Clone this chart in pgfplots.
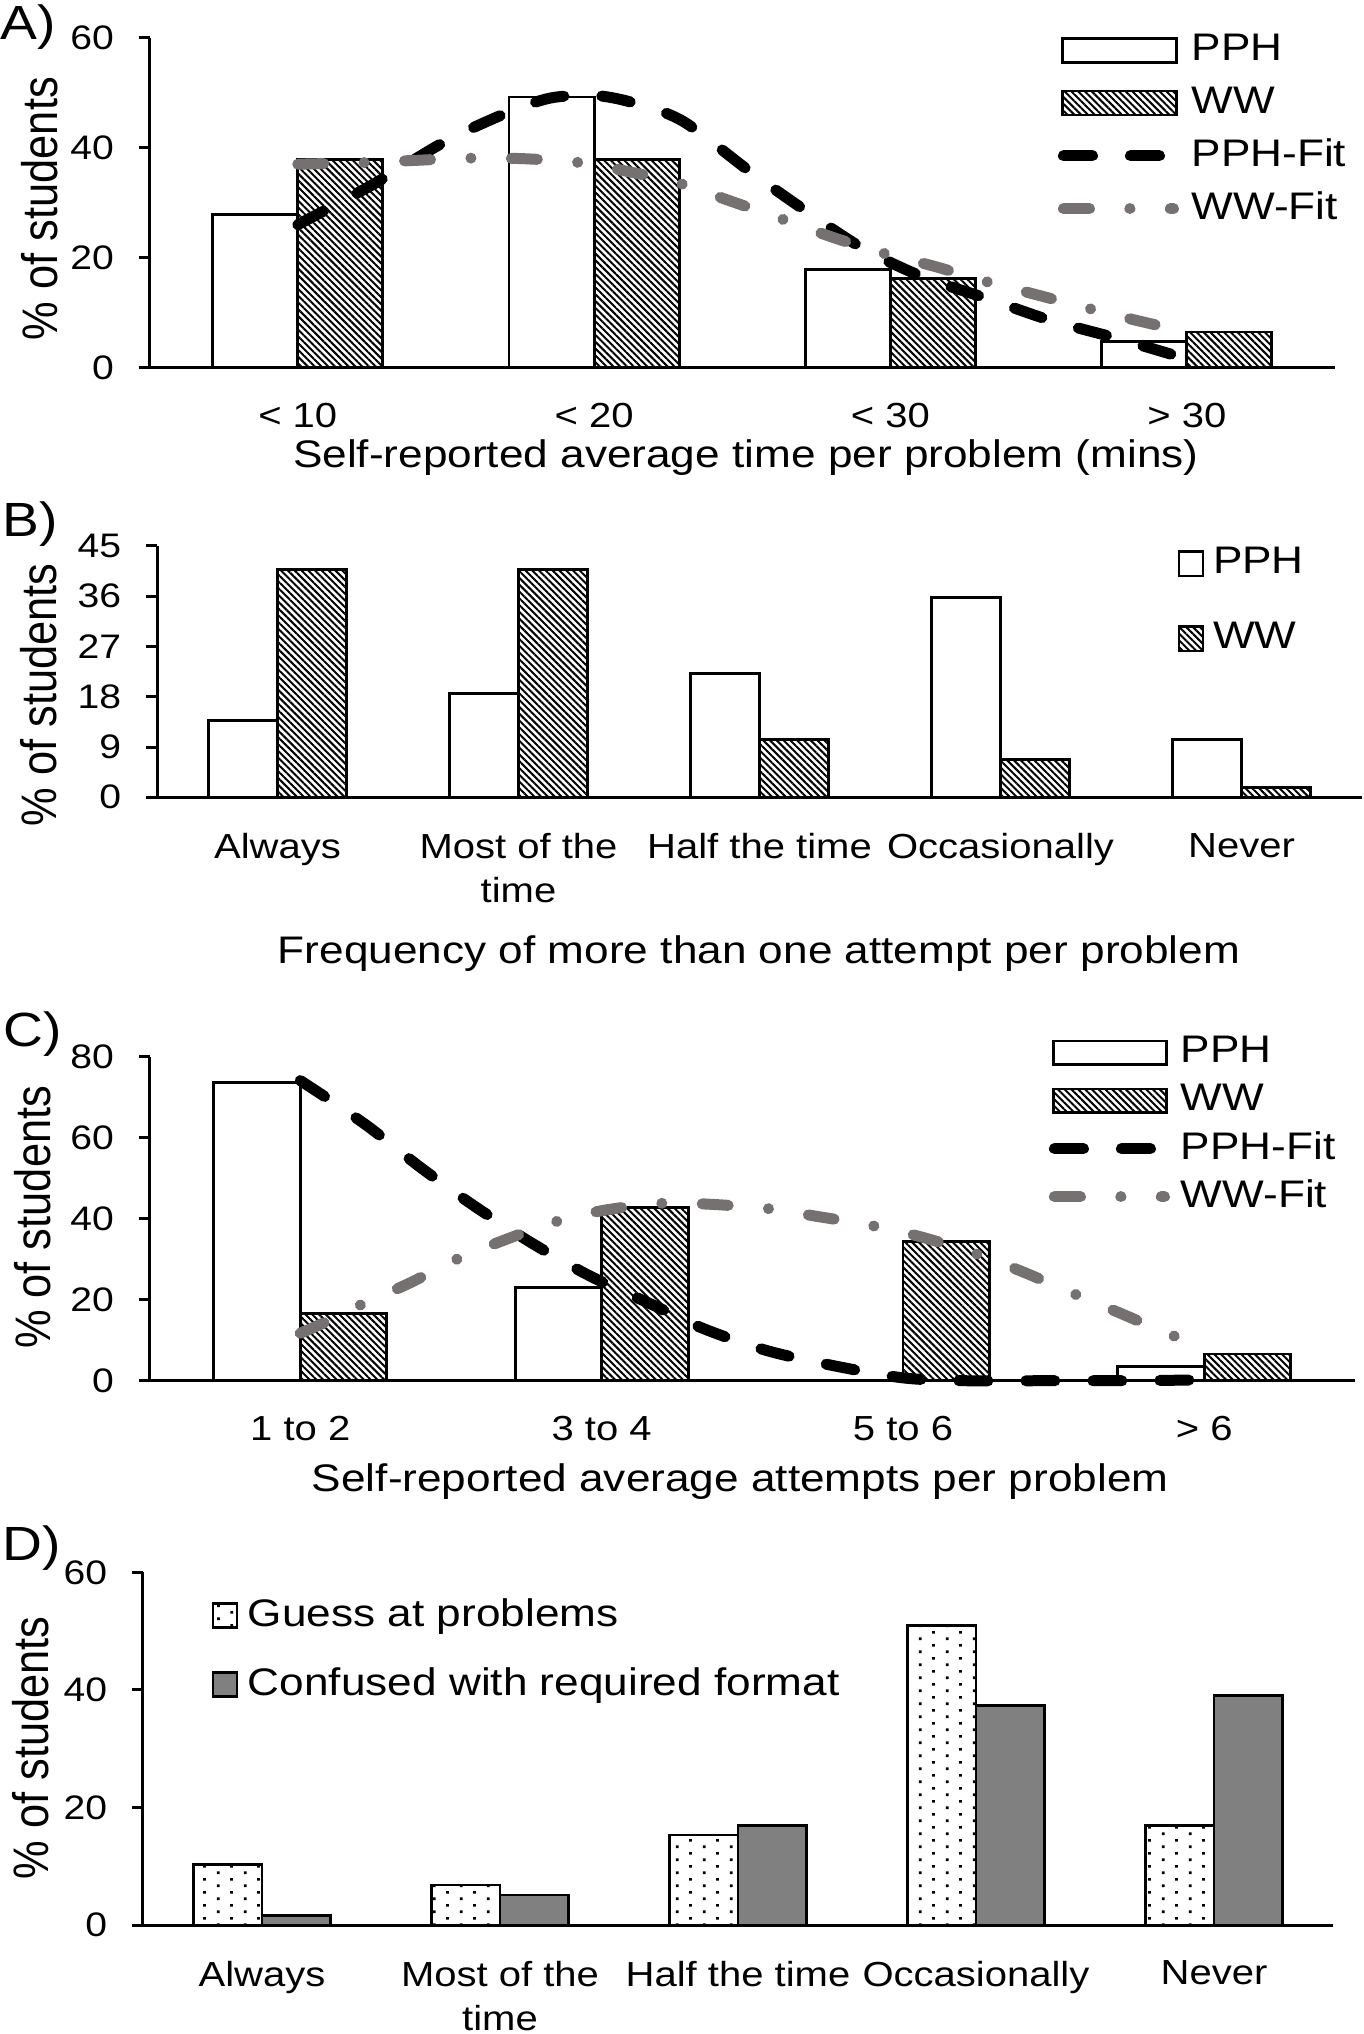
\documentclass[border=0pt]{standalone}
\usepackage{fontspec}
\setmainfont{Liberation Sans}[FakeStretch=1.15]
\newfontfamily\plainfont{Liberation Sans}
\usepackage{pgfplots}
\pgfplotsset{compat=1.18}
\usetikzlibrary{patterns,patterns.meta}
\definecolor{fitgray}{RGB}{118,113,113}
\definecolor{confgray}{RGB}{128,128,128}
\pgfdeclarepatternformonly{guessdots}{\pgfqpoint{0pt}{0pt}}{\pgfqpoint{6.67pt}{3.33pt}}{\pgfqpoint{6.67pt}{3.33pt}}{%
  \pgfpathrectangle{\pgfqpoint{1pt}{0.5pt}}{\pgfqpoint{0.7pt}{0.7pt}}%
  \pgfpathrectangle{\pgfqpoint{4.33pt}{2.17pt}}{\pgfqpoint{0.7pt}{0.7pt}}%
  \pgfusepath{fill}}
\newcommand\tickfont{\fontsize{8.5}{10}\selectfont}
\newcommand\catfont{\fontsize{8.7}{11}\selectfont}
\newcommand\titlefont{\fontsize{9.6}{11.5}\selectfont}
\newcommand\legfont{\fontsize{9.6}{11.5}\selectfont}
\newcommand\ylabfont{\plainfont\fontsize{10.85}{13}\selectfont}
\newcommand\panelfont{\fontsize{12}{14}\selectfont}
\tikzset{
  ppfitline/.style={black, line width=2.75pt, line cap=round, dash pattern=on 7.25pt off 9.5pt},
  wwfitline/.style={fitgray, line width=2.75pt, line cap=round, dash pattern=on 6.5pt off 10.1pt on 0.01pt off 10.1pt},
  hatchfill/.style={pattern={Lines[angle=-45,distance=1.2pt,line width=0.5pt]}},
}
\pgfplotsset{
  panel/.style={
    scale only axis, anchor=south west,
    axis x line=bottom, axis y line=left,
    axis line style={-, line width=0.75pt, black},
    enlargelimits=false, ymin=0, xmin=-0.5, clip=false,
    xtick align=inside, ytick align=outside,
    major tick length=2.75pt,
    xtick style={draw=none},
    ytick style={line width=0.75pt, black},
    yticklabel style={font=\tickfont, anchor=east, inner sep=0pt, xshift=-6pt},
    xticklabel style={font=\catfont, anchor=north, inner sep=0pt, yshift=-8.75pt, align=center},
    /pgf/number format/assume math mode=true,
    legend cell align=left,
  },
  pph/.style={ybar, bar width=0.287, bar shift=-0.1435, draw=black, fill=white, line width=0.7pt},
  ww/.style={ybar, bar width=0.287, bar shift=0.1435, draw=black, line width=0.7pt, hatchfill},
}
\begin{document}
\begin{tikzpicture}
\useasboundingbox (0,0) rectangle (340.75pt,508.5pt);
% ---------------- A ----------------
\begin{axis}[panel, at={(37.4pt,416.575pt)}, width=296.35pt, height=82.5pt,
  xmax=3.5, ymax=60, ytick={0,20,40,60}, xtick={0,1,2,3},
  xticklabels={< 10,< 20,< 30,> 30},
  xlabel={Self-reported average time per problem (mins)},
  xlabel style={at={(axis description cs:0.503,0)}, anchor=base, yshift=-25pt, font=\titlefont},
  ylabel={\% of students},
  ylabel style={at={(axis description cs:-0.0781,0.482)}, anchor=base, font=\ylabfont, yscale=1.15},
  legend style={at={(axis description cs:0.7663,1.042)}, anchor=north west, draw=none, fill=none,
    inner sep=0pt, outer sep=0pt, row sep=0pt, column sep=3.15pt, font=\legfont, nodes={inner sep=0pt}}]
\addplot[pph, legend image code/.code={\draw[black, fill=white, line width=0.7pt] (0pt,-3pt) rectangle (28.5pt,3pt); \path[draw=none,fill=none] (0pt,-6.6pt) (28.5pt,6.6pt);}]
  coordinates {(0,27.9) (1,49.2) (2,17.9) (3,4.8)};
\addlegendentry{PPH}
\addplot[ww, legend image code/.code={\draw[black, line width=0.7pt, hatchfill] (0pt,-3pt) rectangle (28.5pt,3pt); \path[draw=none,fill=none] (0pt,-6.6pt) (28.5pt,6.6pt);}]
  coordinates {(0,37.8) (1,37.8) (2,16.2) (3,6.5)};
\addlegendentry{WW}
\addplot[ppfitline, smooth, legend image code/.code={\draw[ppfitline] (0.2pt,0pt) -- (24.2pt,0pt); \path[draw=none,fill=none] (0pt,-6.6pt) (28.5pt,6.6pt);}]
  coordinates {(0,26) (0.25,33.2) (0.5,41.2) (0.7,46.2) (0.85,49.0) (1.0,49.5) (1.13,48.2) (1.3,44.8) (1.53,35.5) (1.72,28.3) (1.91,21.6) (2.11,16.5) (2.33,12.5) (2.54,8.6) (2.76,5.4) (3.0,1.6)};
\addlegendentry{PPH-Fit}
\addplot[wwfitline, smooth, legend image code/.code={\draw[wwfitline] (0.2pt,0pt) -- (27.7pt,0pt); \path[draw=none,fill=none] (0pt,-6.6pt) (28.5pt,6.6pt);}]
  coordinates {(0,37.0) (0.23,37.3) (0.4,37.7) (0.58,38.1) (0.76,38.0) (0.95,37.3) (1.12,35.6) (1.29,33.5) (1.46,30.3) (1.63,27.1) (1.8,23.8) (1.97,20.9) (2.15,18.4) (2.32,15.7) (2.49,13.3) (2.66,10.9) (2.83,8.6) (3.0,6.5)};
\addlegendentry{WW-Fit}
\end{axis}
% ---------------- B ----------------
\begin{axis}[panel, at={(39.25pt,309.175pt)}, width=301.25pt, height=62.825pt,
  xmax=4.5, ymax=45, ytick={0,9,18,27,36,45}, xtick={0,1,2,3,4},
  xticklabels={Always,{Most of the\\time},Half the time,Occasionally,Never},
  xlabel={Frequency of more than one attempt per problem},
  xlabel style={at={(axis description cs:0.4996,0)}, anchor=base, yshift=-41.5pt, font=\titlefont},
  ylabel={\% of students},
  ylabel style={at={(axis description cs:-0.0838,0.407)}, anchor=base, font=\ylabfont, yscale=1.15},
  legend style={at={(axis description cs:0.847,1.0788)}, anchor=north west, draw=none, fill=none,
    inner sep=0pt, outer sep=0pt, row sep=0pt, column sep=2.15pt, font=\legfont, nodes={inner sep=0pt}}]
\addplot[pph, legend image code/.code={\draw[black, fill=white, line width=0.7pt] (0pt,-3.1pt) rectangle (6pt,3.1pt); \path[draw=none,fill=none] (0pt,-9.375pt) (6pt,9.375pt);}]
  coordinates {(0,13.7) (1,18.6) (2,22.2) (3,35.8) (4,10.3)};
\addlegendentry{PPH}
\addplot[ww, legend image code/.code={\draw[black, line width=0.7pt, hatchfill] (0pt,-3.1pt) rectangle (6pt,3.1pt); \path[draw=none,fill=none] (0pt,-9.375pt) (6pt,9.375pt);}]
  coordinates {(0,40.8) (1,40.8) (2,10.3) (3,6.8) (4,1.8)};
\addlegendentry{WW}
\end{axis}
% ---------------- C ----------------
\begin{axis}[panel, at={(37.4pt,163.325pt)}, width=301.35pt, height=81pt,
  xmax=3.5, ymax=80, ytick={0,20,40,60,80}, xtick={0,1,2,3},
  xticklabels={1 to 2,3 to 4,5 to 6,> 6},
  xlabel={Self-reported average attempts per problem},
  xlabel style={at={(axis description cs:0.49,0)}, anchor=base, yshift=-27.8pt, font=\titlefont},
  ylabel={\% of students},
  ylabel style={at={(axis description cs:-0.0826,0.504)}, anchor=base, font=\ylabfont, yscale=1.15},
  legend style={at={(axis description cs:0.7461,1.0864)}, anchor=north west, draw=none, fill=none,
    inner sep=0pt, outer sep=0pt, row sep=0pt, column sep=2.7pt, font=\legfont, nodes={inner sep=0pt}}]
\addplot[pph, legend image code/.code={\draw[black, fill=white, line width=0.7pt] (0pt,-2.9pt) rectangle (28.3pt,2.9pt); \path[draw=none,fill=none] (0pt,-6pt) (28.3pt,6pt);}]
  coordinates {(0,73.7) (1,23.0) (2,0) (3,3.5)};
\addlegendentry{PPH}
\addplot[ww, legend image code/.code={\draw[black, line width=0.7pt, hatchfill] (0pt,-2.9pt) rectangle (28.3pt,2.9pt); \path[draw=none,fill=none] (0pt,-6pt) (28.3pt,6pt);}]
  coordinates {(0,16.5) (1,42.8) (2,34.3) (3,6.6)};
\addlegendentry{WW}
\addplot[ppfitline, smooth, legend image code/.code={\draw[ppfitline] (0.2pt,0pt) -- (24.2pt,0pt); \path[draw=none,fill=none] (0pt,-6pt) (28.3pt,6pt);}]
  coordinates {(0,74.1) (0.09,69.7) (0.23,62.5) (0.4,52.6) (0.58,43) (0.77,33.9) (0.96,25.9) (1.17,18.7) (1.34,12.8) (1.55,7.4) (1.77,3.7) (2.0,0.7) (2.2,0) (2.5,0) (2.75,0) (3.0,0.2)};
\addlegendentry{PPH-Fit}
\addplot[wwfitline, smooth, legend image code/.code={\draw[wwfitline] (0.2pt,0pt) -- (27.7pt,0pt); \path[draw=none,fill=none] (0pt,-6pt) (28.3pt,6pt);}]
  coordinates {(0,11.7) (0.1,15) (0.2,18.7) (0.36,24) (0.52,30) (0.68,34.8) (0.85,39.3) (1.01,42.1) (1.2,43.8) (1.35,43.6) (1.55,42.5) (1.72,40.5) (1.89,38.4) (2.06,35.5) (2.24,31.4) (2.4,26.8) (2.56,21.7) (2.72,16.7) (2.89,11.3) (3.0,8.5)};
\addlegendentry{WW-Fit}
\end{axis}
% ---------------- D ----------------
\begin{axis}[panel, at={(35.75pt,27.25pt)}, width=297.5pt, height=88.175pt,
  xmax=4.5, ymax=60, ytick={0,20,40,60}, xtick={0,1,2,3,4},
  xticklabels={Always,{Most of the\\time},Half the time,Occasionally,Never},
  ylabel={\% of students},
  ylabel style={at={(axis description cs:-0.0798,0.502)}, anchor=base, font=\ylabfont, yscale=1.15},
  legend style={at={(axis description cs:0.0576,0.9764)}, anchor=north west, draw=none, fill=none,
    inner sep=0pt, outer sep=0pt, row sep=0pt, column sep=2.4pt, font=\legfont, nodes={inner sep=0pt}}]
\addplot[ybar, bar width=0.287, bar shift=-0.1435, draw=black, line width=0.7pt, pattern=guessdots,
  legend image code/.code={\draw[black, line width=0.7pt, pattern=guessdots] (0pt,-3pt) rectangle (6pt,3pt); \path[draw=none,fill=none] (0pt,-8.625pt) (6pt,8.625pt);}]
  coordinates {(0,10.3) (1,6.8) (2,15.3) (3,50.9) (4,16.9)};
\addlegendentry{Guess at problems}
\addplot[ybar, bar width=0.287, bar shift=0.1435, draw=black, fill=confgray, line width=0.7pt,
  legend image code/.code={\draw[black, line width=0.7pt, fill=confgray] (0pt,-3pt) rectangle (6pt,3pt); \path[draw=none,fill=none] (0pt,-8.625pt) (6pt,8.625pt);}]
  coordinates {(0,1.6) (1,5.1) (2,16.9) (3,37.4) (4,39.0)};
\addlegendentry{Confused with required format}
\end{axis}
% panel letters
\node[anchor=base west, inner sep=0pt, font=\panelfont] at (0pt,498.5pt) {A)};
\node[anchor=base west, inner sep=0pt, font=\panelfont] at (0.5pt,374.3pt) {B)};
\node[anchor=base west, inner sep=0pt, font=\panelfont] at (0.75pt,246.8pt) {C)};
\node[anchor=base west, inner sep=0pt, font=\panelfont] at (0.5pt,118.25pt) {D)};
\end{tikzpicture}
\end{document}
